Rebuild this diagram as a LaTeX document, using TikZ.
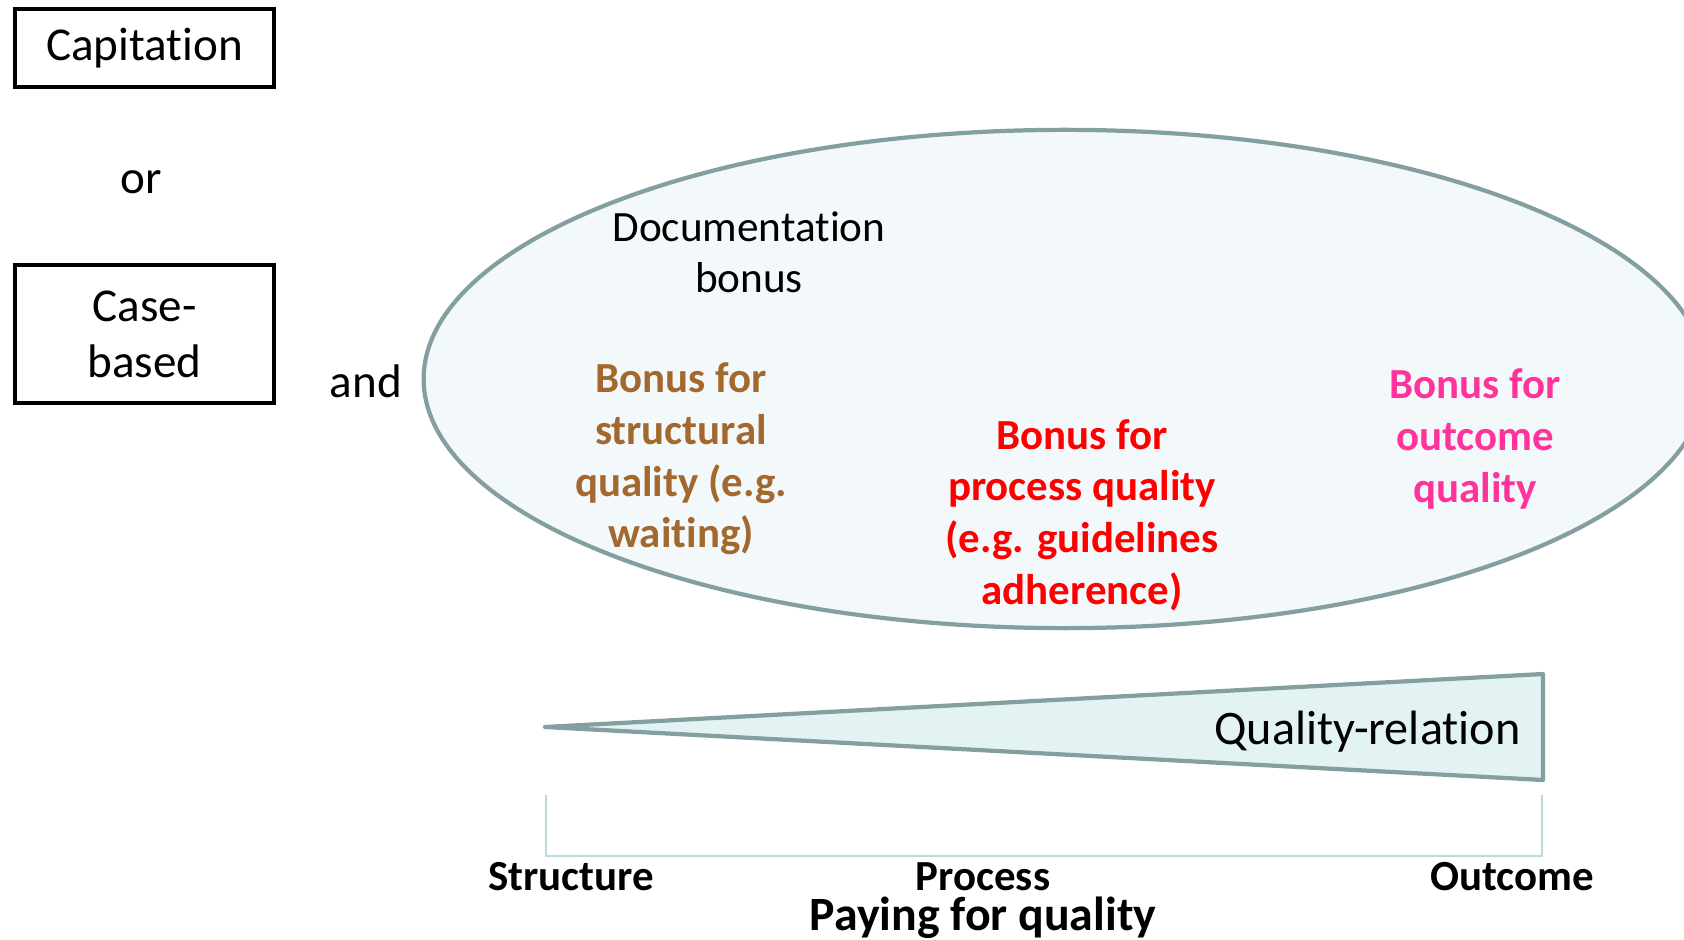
\documentclass[tikz,border=0pt]{standalone}
\usepackage{fontspec}
\setmainfont{Carlito}[Ligatures=NoCommon]
\usepackage{xcolor}
\usepackage{tikz}
\usetikzlibrary{shapes.geometric}
\definecolor{rimgrey}{HTML}{849FA0}
\definecolor{ovalfill}{HTML}{F3F8FA}
\definecolor{wedgefill}{HTML}{E3F2F2}
\definecolor{scalecol}{HTML}{B5DCDF}
\definecolor{structbrown}{HTML}{A3682E}
\definecolor{outpink}{HTML}{FF3399}
\tikzstyle{paybox} = [rectangle, draw=black, line width=1.3pt, minimum width=2.59cm, text centered, font=\fontsize{13.4}{15.9}\selectfont]
\tikzstyle{plain} = [align=center, font=\fontsize{13.4}{14.6}\selectfont]
\tikzstyle{bonus} = [align=center, font=\fontsize{12.2}{14.7}\selectfont\bfseries]
\tikzstyle{axislabel} = [inner sep=0pt, font=\fontsize{12.2}{14}\selectfont\bfseries]

\begin{document}
\begin{tikzpicture}[x=0.01cm, y=-0.01cm]
    \useasboundingbox (0,0) rectangle (1684,940);
    % Payment base
    \node (capitation) [paybox, minimum height=0.78cm] at (144.5,48) {\raisebox{-4pt}{Capitation}};
    \node (or) [plain] at (141,182) {or};
    \node (casebased) [paybox, minimum height=1.38cm, align=center] at (144.5,334) {Case-\\based};
    \node (and) [plain] at (366,381) {and};
    % Bonus area
    \node (bonusarea) [ellipse, draw=rimgrey, fill=ovalfill, line width=1.2pt, minimum width=12.82cm, minimum height=4.98cm, inner sep=0pt] at (1065,379) {};
    \node (docbonus) [plain, font=\fontsize{12.3}{14.6}\selectfont] at (749,252) {Documentation\\bonus};
    \node (structbonus) [bonus, text=structbrown] at (681,459) {Bonus for\\structural\\quality (e.g.\\waiting)};
    \node (procbonus) [bonus, text=red] at (1082,515) {Bonus for\\process quality\\(e.g. guidelines\\adherence)};
    \node (outbonus) [bonus, text=outpink] at (1475,439) {Bonus for\\outcome\\quality};
    % Wedge
    \coordinate (tip) at (545,727);
    \coordinate (wtop) at (1543,674);
    \coordinate (wbot) at (1543,780);
    \draw [rimgrey, fill=wedgefill, line width=1.2pt, line join=round] (tip) -- (wtop) -- (wbot) -- cycle;
    \node (relation) [plain, anchor=east, font=\fontsize{13.7}{15}\selectfont] at (1533,732) {Quality-relation};
    % Scale
    \coordinate (sleft) at (546,795);
    \coordinate (sright) at (1542,795);
    \draw [scalecol, line width=0.6pt] (sleft) -- ++(0,61) -| (sright);
    \node (structure) [axislabel] at (571,877) {Structure};
    \node (process) [axislabel] at (983,877) {Process};
    \node (outcome) [axislabel] at (1512,877) {Outcome};
    \node (paying) [axislabel, font=\fontsize{13.6}{15}\selectfont\bfseries] at (983,918) {Paying for quality};
\end{tikzpicture}
\end{document}
